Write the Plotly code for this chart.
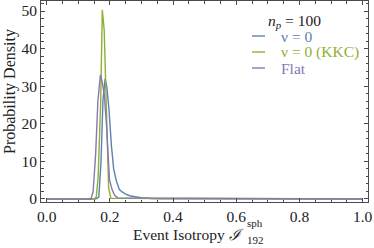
import plotly.graph_objects as go

# ---- data ----
nu0_x = [0.0, 0.155, 0.165, 0.172, 0.178, 0.185, 0.190, 0.197, 0.205, 0.212, 0.220, 0.230, 0.240, 0.250, 0.265, 0.280, 0.300, 0.330, 0.360, 1.0]
nu0_y = [0.0, 0.0, 0.5, 10.0, 26.0, 32.0, 30.0, 24.0, 14.0, 8.0, 5.0, 2.5, 1.8, 1.3, 0.8, 0.6, 0.35, 0.15, 0.05, 0.0]

kkc_x = [0.0, 0.150, 0.157, 0.163, 0.171, 0.176, 0.182, 0.189, 0.196, 0.203, 1.0]
kkc_y = [0.0, 0.0, 0.5, 6.0, 26.0, 50.3, 45.0, 24.0, 3.0, 0.2, 0.0]

flat_x = [0.0, 0.140, 0.147, 0.155, 0.162, 0.170, 0.176, 0.182, 0.189, 0.195, 0.199, 0.207, 0.215, 0.225, 1.0]
flat_y = [0.0, 0.0, 2.0, 12.0, 26.0, 33.0, 31.0, 28.0, 20.0, 10.0, 5.0, 2.5, 1.0, 0.3, 0.0]

series_names = ["\u03bd = 0", "\u03bd = 0 (KKC)", "Flat"]
series_colors = ["#5E81B5", "#8FB032", "#8778B3"]
x_ticks = [0.0, 0.2, 0.4, 0.6, 0.8, 1.0]
y_ticks = [0, 10, 20, 30, 40, 50]

FONT = "Liberation Serif"
FRAME = "#4a4a4a"

fig = go.Figure()
for (xs, ys), name, col in zip([(nu0_x, nu0_y), (kkc_x, kkc_y), (flat_x, flat_y)], series_names, series_colors):
    fig.add_trace(go.Scatter(x=xs, y=ys, mode="lines", name=name,
                             line=dict(color=col, width=1.4), showlegend=False))

W, H = 374, 248
ml, mr, mt, mb = 41, 6, 1, 46
pw, ph = W - ml - mr, H - mt - mb

def px_x(px):
    return (px - ml) / pw

def px_y(py):
    return (H - mb - py) / ph

axis_common = dict(showgrid=False, zeroline=False, showline=True, linecolor=FRAME, linewidth=1,
                   mirror="ticks", ticks="inside", ticklen=4, tickcolor=FRAME, tickwidth=1,
                   automargin=False,
                   tickfont=dict(family=FONT, size=15.5, color="#222222"))

fig.update_layout(
    width=W, height=H,
    margin=dict(l=ml, r=mr, t=mt, b=mb, autoexpand=False),
    paper_bgcolor="white", plot_bgcolor="white",
    font=dict(family=FONT),
    xaxis=dict(range=[-0.018, 1.017], tickvals=x_ticks, tickformat=".1f",
               minor=dict(dtick=0.05, ticks="inside", ticklen=2.5, tickcolor=FRAME, showgrid=False),
               **axis_common),
    yaxis=dict(range=[-0.8, 52.66], tickvals=y_ticks,
               minor=dict(dtick=2, ticks="inside", ticklen=2.5, tickcolor=FRAME, showgrid=False),
               **axis_common),
)

ann = []
# y axis title
ann.append(dict(text="Probability Density", x=px_x(10), y=px_y(92), xref="paper", yref="paper",
                textangle=-90, showarrow=False, xanchor="center", yanchor="middle",
                font=dict(family=FONT, size=16, color="#222222")))
# x axis title
ann.append(dict(text="Event Isotropy <i>\u2110</i>", x=px_x(246), y=px_y(234), xref="paper", yref="paper",
                showarrow=False, xanchor="right", yanchor="middle",
                font=dict(family=FONT, size=15.5, color="#222222")))
ann.append(dict(text="192", x=px_x(245), y=px_y(240), xref="paper", yref="paper",
                showarrow=False, xanchor="left", yanchor="middle",
                font=dict(family=FONT, size=11, color="#222222")))
ann.append(dict(text="sph", x=px_x(245), y=px_y(223), xref="paper", yref="paper",
                showarrow=False, xanchor="left", yanchor="middle",
                font=dict(family=FONT, size=11, color="#222222")))
# legend title
ann.append(dict(text="<i>n</i><sub><i>p</i></sub> = 100", x=px_x(266), y=px_y(22), xref="paper", yref="paper",
                showarrow=False, xanchor="left", yanchor="middle",
                font=dict(family=FONT, size=15.5, color="#222222")))

shapes = []
legend_y = [36, 52, 68]
for name, col, ly in zip(series_names, series_colors, legend_y):
    shapes.append(dict(type="line", xref="paper", yref="paper", x0=px_x(252), x1=px_x(265),
                       y0=px_y(ly), y1=px_y(ly), line=dict(color=col, width=1.4)))
    ann.append(dict(text=name, x=px_x(279), y=px_y(ly), xref="paper", yref="paper",
                    showarrow=False, xanchor="left", yanchor="middle",
                    font=dict(family=FONT, size=15.5, color=col)))

fig.update_layout(annotations=ann, shapes=shapes)
fig.write_html("out.html", config={"displayModeBar": False},
               post_script="document.body.style.margin='0px';document.body.style.padding='0px';document.body.style.overflow='hidden';")
